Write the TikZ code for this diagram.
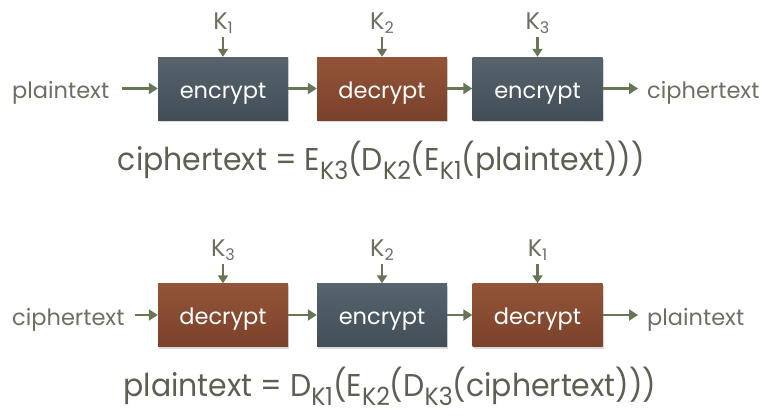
\documentclass[tikz,border=0pt]{standalone}
\usepackage{fontspec}
\setmainfont{Poppins}
\usetikzlibrary{shadows,arrows.meta}
\definecolor{slatetop}{HTML}{57636D}
\definecolor{slatebot}{HTML}{434E57}
\definecolor{rusttop}{HTML}{935539}
\definecolor{rustbot}{HTML}{7A412A}
\definecolor{arr}{HTML}{667656}
\definecolor{lbl}{HTML}{6E6F62}
\definecolor{eq}{HTML}{5E5F52}
\tikzset{
  blk/.style={minimum width=130pt,minimum height=63pt,inner sep=0pt,
    font=\fontsize{22.5}{22.5}\selectfont,text=white,text height=22pt,text depth=3pt,
    drop shadow={shadow xshift=1pt,shadow yshift=-2pt,opacity=0.3}},
  encbox/.style={blk,top color=slatetop,bottom color=slatebot},
  decbox/.style={blk,top color=rusttop,bottom color=rustbot},
  io/.style={font=\fontsize{22.5}{22.5}\selectfont,text=lbl,inner sep=0pt},
  key/.style={font=\fontsize{24}{24}\selectfont,text=lbl,inner sep=0pt,anchor=base},
  flow/.style={draw=arr,line width=2.6pt,-{Triangle[length=9pt,width=11pt]}},
  kflow/.style={draw=arr,line width=2.4pt,-{Triangle[length=8pt,width=10pt]}},
  eqn/.style={font=\fontsize{31.5}{31.5}\selectfont,text=eq,inner sep=0pt,anchor=base}
}
\newcommand{\sbk}[1]{\raisebox{-9pt}{\fontsize{25}{25}\selectfont #1}}
\newcommand{\ksub}[1]{\raisebox{-4pt}{\fontsize{16}{16}\selectfont #1}}
\begin{document}
\begin{tikzpicture}[x=1pt,y=-1pt]
\useasboundingbox (0,0) rectangle (765,415);
% top row
\node[encbox] (e1) at (223,88.5) {encrypt};
\node[decbox] (d2) at (382,88.5) {decrypt};
\node[encbox] (e3) at (537.5,88.5) {encrypt};
\node[io,anchor=base west] (pt1) at (12,98) {plaintext};
\node[io,anchor=base west] (ct1) at (647,98) {ciphertext};
\node[key] (k1a) at (223,29) {K\ksub{1}};
\node[key] (k2a) at (382,29) {K\ksub{2}};
\node[key] (k3a) at (537.5,29) {K\ksub{3}};
\draw[flow] ([xshift=13pt]pt1.east |- e1.west) -- (e1.west);
\draw[flow] (e1) -- (d2);
\draw[flow] (d2) -- (e3);
\draw[flow] (e3.east) -- ([xshift=-9pt]ct1.west |- e3.east);
\draw[kflow] ([yshift=-8pt]k1a.base -| e1.north) -- (e1.north);
\draw[kflow] ([yshift=-8pt]k2a.base -| d2.north) -- (d2.north);
\draw[kflow] ([yshift=-8pt]k3a.base -| e3.north) -- (e3.north);
\node[eqn] (eq1) at (381.5,170) {\scalebox{0.95}[1]{ciphertext = E\sbk{K3}(D\sbk{K2}(E\sbk{K1}(plaintext)))}};
% bottom row
\node[decbox] (d1) at (223,315) {decrypt};
\node[encbox] (e2) at (382,315) {encrypt};
\node[decbox] (d3) at (537.5,315) {decrypt};
\node[io,anchor=base west] (ct2) at (12,325) {ciphertext};
\node[io,anchor=base west] (pt2) at (647,325) {plaintext};
\node[key] (k3b) at (223,256) {K\ksub{3}};
\node[key] (k2b) at (382,256) {K\ksub{2}};
\node[key] (k1b) at (537.5,256) {K\ksub{1}};
\draw[flow] ([xshift=10pt]ct2.east |- d1.west) -- (d1.west);
\draw[flow] (d1) -- (e2);
\draw[flow] (e2) -- (d3);
\draw[flow] (d3.east) -- ([xshift=-9pt]pt2.west |- d3.east);
\draw[kflow] ([yshift=-8pt]k3b.base -| d1.north) -- (d1.north);
\draw[kflow] ([yshift=-8pt]k2b.base -| e2.north) -- (e2.north);
\draw[kflow] ([yshift=-8pt]k1b.base -| d3.north) -- (d3.north);
\node[eqn] (eq2) at (390,396) {\scalebox{0.95}[1]{plaintext = D\sbk{K1}(E\sbk{K2}(D\sbk{K3}(ciphertext)))}};
\end{tikzpicture}
\end{document}
